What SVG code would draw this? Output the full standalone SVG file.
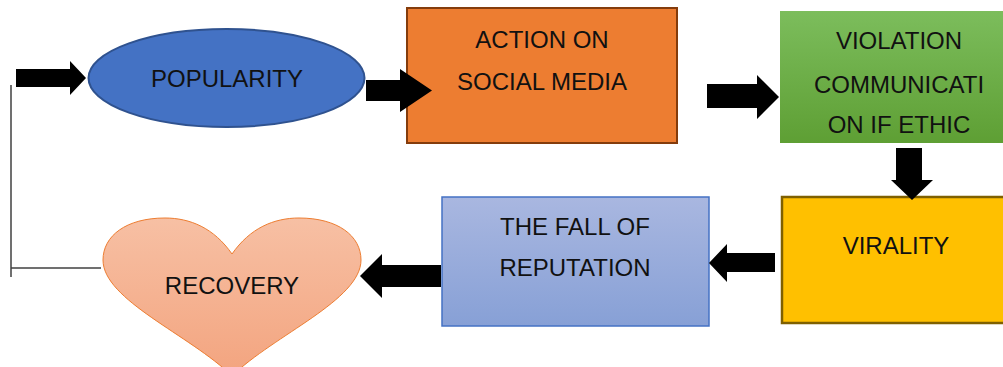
<svg xmlns="http://www.w3.org/2000/svg" width="1003" height="367" viewBox="0 0 1003 367">
  <defs>
    <linearGradient id="gGreen" x1="0" y1="0" x2="0" y2="1">
      <stop offset="0" stop-color="#7CBD5C"/>
      <stop offset="1" stop-color="#5E9F34"/>
    </linearGradient>
    <linearGradient id="gBlue" x1="0" y1="0" x2="0" y2="1">
      <stop offset="0" stop-color="#A9B7E0"/>
      <stop offset="1" stop-color="#87A0D6"/>
    </linearGradient>
    <linearGradient id="gPeach" x1="0" y1="0" x2="0" y2="1">
      <stop offset="0" stop-color="#F7C0A4"/>
      <stop offset="1" stop-color="#F3A47F"/>
    </linearGradient>
  </defs>
  <style>
    .lbl { font-family: "Liberation Sans", Arial, sans-serif; font-size: 24px; fill: #111; text-anchor: middle; }
    .arrow { fill: #000; }
    .link { fill: none; stroke: #404040; stroke-width: 1.5; }
  </style>

  <rect width="1003" height="367" fill="#fff"/>

  <!-- return path from recovery back to the start -->
  <g id="connectors">
    <polyline class="link" points="11,85 11,277"/>
    <polyline class="link" points="11,268 101,268"/>
  </g>

  <g id="popularity">
    <ellipse cx="226.5" cy="78" rx="138" ry="49" fill="#4472C4" stroke="#2F528F" stroke-width="2"/>
    <text class="lbl" x="227" y="87">POPULARITY</text>
  </g>

  <g id="action">
    <rect x="407" y="8" width="270" height="135" fill="#ED7D31" stroke="#843C0C" stroke-width="2"/>
    <text class="lbl" x="542" y="48">ACTION ON</text>
    <text class="lbl" x="542" y="90">SOCIAL MEDIA</text>
  </g>

  <g id="violation">
    <rect x="780" y="11" width="230" height="132" fill="url(#gGreen)"/>
    <text class="lbl" x="899" y="49">VIOLATION</text>
    <text class="lbl" x="899" y="93">COMMUNICATI</text>
    <text class="lbl" x="899" y="133">ON IF ETHIC</text>
  </g>

  <g id="virality">
    <rect x="782" y="197" width="230" height="126" fill="#FFC000" stroke="#7F6000" stroke-width="2.5"/>
    <text class="lbl" x="896" y="254">VIRALITY</text>
  </g>

  <g id="fall">
    <rect x="442" y="197" width="267" height="129" fill="url(#gBlue)" stroke="#4472C4" stroke-width="1.5"/>
    <text class="lbl" x="575" y="235">THE FALL OF</text>
    <text class="lbl" x="575" y="276">REPUTATION</text>
  </g>

  <g id="recovery">
    <path d="M232,254 C214,228 190,218 165,218 C126,218 103,236 103,260 C103,300 190,335 232,376 C274,335 361,300 361,260 C361,236 338,218 299,218 C274,218 250,228 232,254 Z" fill="url(#gPeach)" stroke="#ED7D31" stroke-width="1"/>
    <text class="lbl" x="232" y="294">RECOVERY</text>
  </g>

  <!-- block arrows between the steps -->
  <g id="arrows">
    <polygon class="arrow" points="16,69 70,69 70,61 86,78 70,95 70,87 16,87"/>
    <polygon class="arrow" points="366,80 400,80 400,69 432,90.5 400,112 400,101 366,101"/>
    <polygon class="arrow" points="707,84 757,84 757,75 779,97 757,119 757,108 707,108"/>
    <polygon class="arrow" points="896,148 922,148 922,180 933,180 912,200 891,180 896,180"/>
    <polygon class="arrow" points="775,253 727,253 727,244 709,263 727,282 727,272 775,272"/>
    <polygon class="arrow" points="441,265 382,265 382,254 360,276 382,298 382,287 441,287"/>
  </g>
</svg>
